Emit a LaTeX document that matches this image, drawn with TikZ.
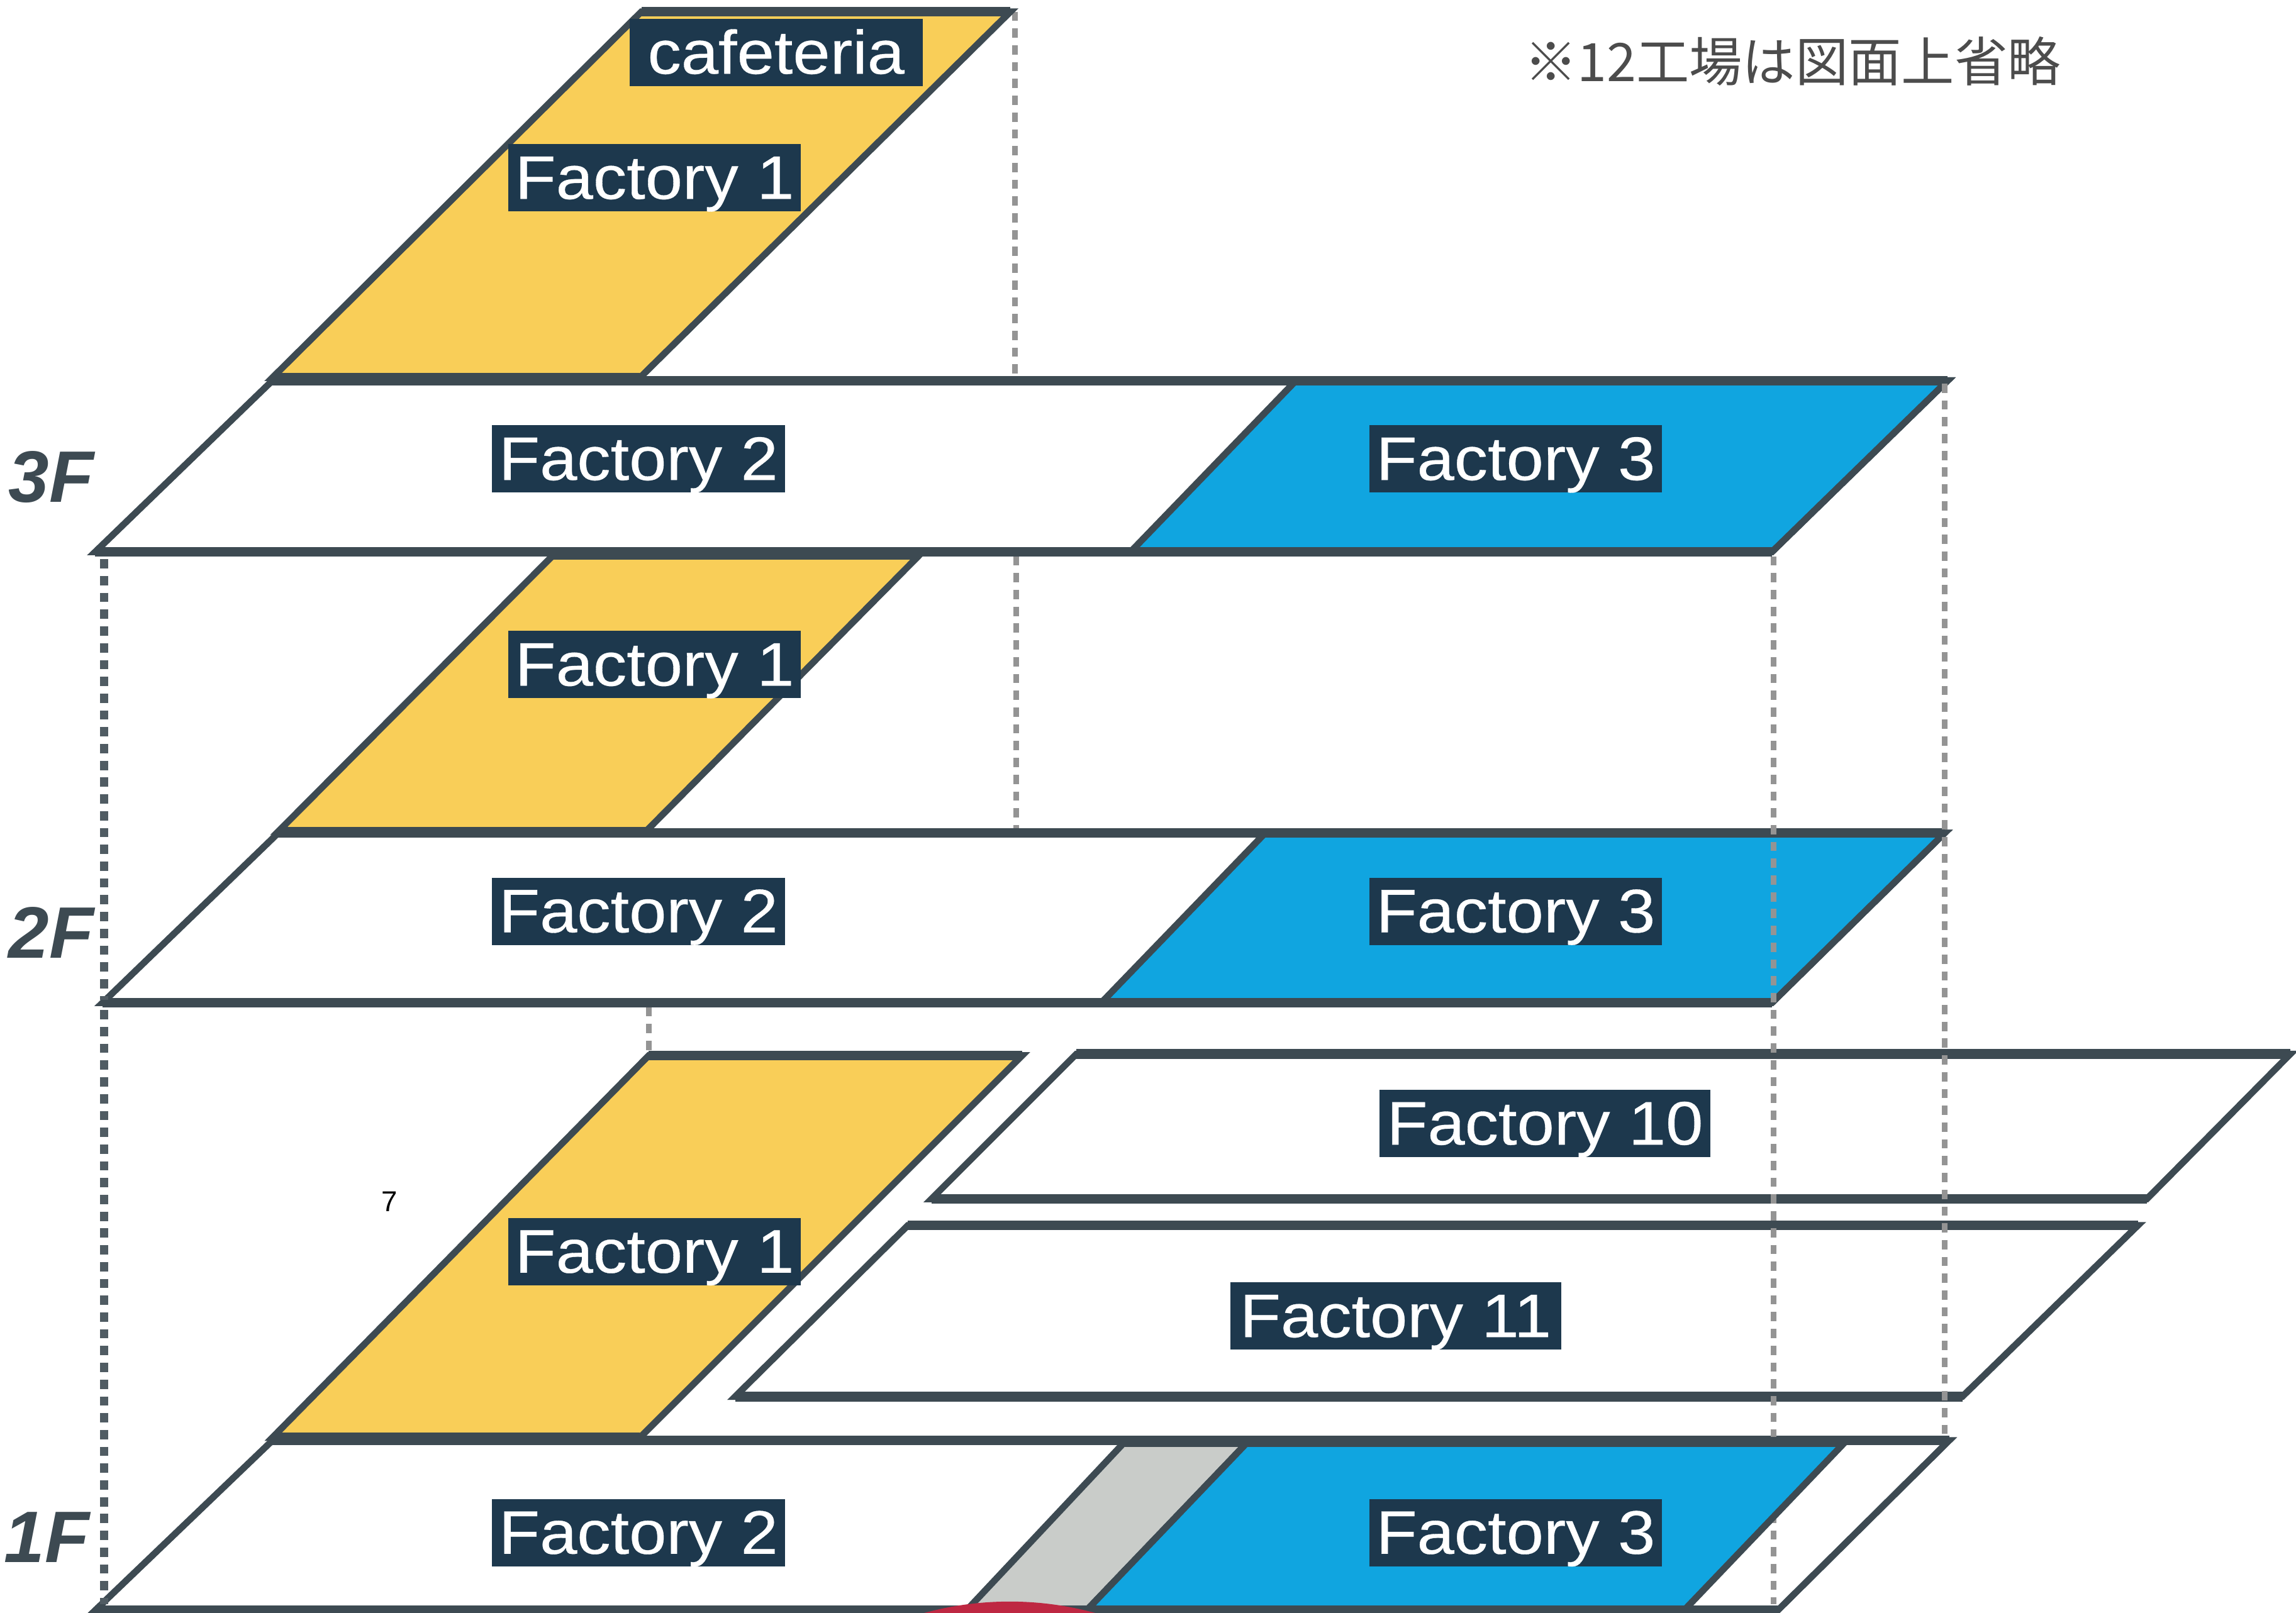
\documentclass[tikz,border=0pt]{standalone}
\usepackage{fontspec}
\setmainfont{Liberation Sans}
\newfontfamily\labelfont[FakeStretch=1.09,FakeBold=0.35]{Liberation Sans}
\newfontfamily\floorfont[BoldItalicFont={Liberation Sans Bold Italic}]{Liberation Sans}
\newfontfamily\cjk{Noto Sans CJK JP}
\definecolor{ink}{HTML}{3D4A52}
\definecolor{labelbg}{HTML}{1D384D}
\definecolor{yel}{HTML}{F9CE58}
\definecolor{blu}{HTML}{10A5E0}
\definecolor{gry}{HTML}{C9CCC9}
\definecolor{rd}{HTML}{BE2842}
\tikzset{
  edge/.style={draw=ink,line width=3pt,line join=miter,miter limit=10},
  hedge/.style={draw=ink,line width=4.4pt,line cap=butt},
  darkdots/.style={draw=ink!90,line width=3.6pt,dash pattern=on 4.2pt off 3.4pt},
  greydots/.style={draw=black!42,line width=2.6pt,dash pattern=on 4.2pt off 3.4pt},
  tag/.style={fill=labelbg,text=white,inner sep=0pt,text height=24.7pt,text depth=5.7pt,font=\labelfont\fontsize{27.8}{30}\selectfont,anchor=center},
  floor/.style={text=ink,inner sep=0pt,font=\floorfont\fontsize{33}{36}\selectfont\bfseries\itshape},
}
% parallelogram: bottom-left, bottom-right, top-right, top-left, fill
\newcommand{\plate}[5]{%
  \path[fill=#5,edge] (#1) -- (#2) -- (#3) -- (#4) -- cycle;
  \draw[hedge] (#1) -- (#2) (#4) -- (#3);
}
\begin{document}
\begin{tikzpicture}[x=0.02328cm,y=-0.02328cm]
\useasboundingbox[fill=white] (0,0) rectangle (1567.9,1101.8);
\begin{scope}
\clip (0,0) rectangle (1567.9,1101.8);

% dotted lines behind the plates
\draw[greydots] (693,8) -- (693,258);
\draw[greydots] (694,380) -- (694,568);
\draw[greydots] (443,688) -- (443,720);

% 3F
\plate{186,258}{437,258}{690,8}{438,8}{yel}
\plate{65,377}{1210,377}{1330,260}{186,260}{white}
\plate{772,377}{1210,377}{1330,260}{885,260}{blu}
% 2F
\plate{190,568}{441,568}{628,379}{378,379}{yel}
\plate{70,685}{1210,685}{1328,569}{190,569}{white}
\plate{752,685}{1210,685}{1328,569}{864,569}{blu}
% 1F
\plate{186,982}{437,982}{698,721}{443,721}{yel}
\plate{636,819}{1466,819}{1564,720}{735,720}{white}
\plate{502,954}{1340,954}{1460,837}{620,837}{white}
\plate{65,1100}{1214,1100}{1331,984}{186,984}{white}

% dotted lines over the plates
\draw[darkdots] (71,382) -- (71,683);
\draw[darkdots] (71,690) -- (71,1096);
\draw[greydots] (1211,380) -- (1211,1096);
\draw[greydots] (1328,262) -- (1328,984);

\plate{660,1100}{742,1100}{852,985}{768,985}{gry}
\plate{742,1100}{1150,1100}{1260,985}{852,985}{blu}
\fill[rd] (689.5,1315) circle (221);
\end{scope}

\node[tag,minimum width=200*0.02328cm] (caf) at (530,36) {cafeteria};
\node[tag,minimum width=200*0.02328cm] (f1c) at (447,121.5) {Factory 1};
\node[tag,minimum width=200*0.02328cm] (f2c) at (436,313.5) {Factory 2};
\node[tag,minimum width=200*0.02328cm] (f3c) at (1035,313.5) {Factory 3};
\node[tag,minimum width=200*0.02328cm] (f1b) at (447,454) {Factory 1};
\node[tag,minimum width=200*0.02328cm] (f2b) at (436,622.5) {Factory 2};
\node[tag,minimum width=200*0.02328cm] (f3b) at (1035,622.5) {Factory 3};
\node[tag,minimum width=226*0.02328cm] (f10) at (1055,767.5) {Factory 10};
\node[tag,minimum width=200*0.02328cm] (f1a) at (447,855) {Factory 1};
\node[tag,minimum width=226*0.02328cm] (f11) at (953,899) {Factory 11};
\node[tag,minimum width=200*0.02328cm] (f2a) at (436,1047) {Factory 2};
\node[tag,minimum width=200*0.02328cm] (f3a) at (1035,1047) {Factory 3};

\node[floor] (l3) at (35,326) {3F};
\node[floor] (l2) at (35,637) {2F};
\node[floor] (l1) at (32,1050) {1F};

\node[inner sep=0pt,text=black!70,font=\cjk\fontsize{24}{26}\selectfont] (note) at (1224,42) {※12工場は図面上省略};
\node[inner sep=0pt,font=\fontsize{13}{15}\selectfont] (seven) at (266,821) {7};
\end{tikzpicture}
\end{document}
